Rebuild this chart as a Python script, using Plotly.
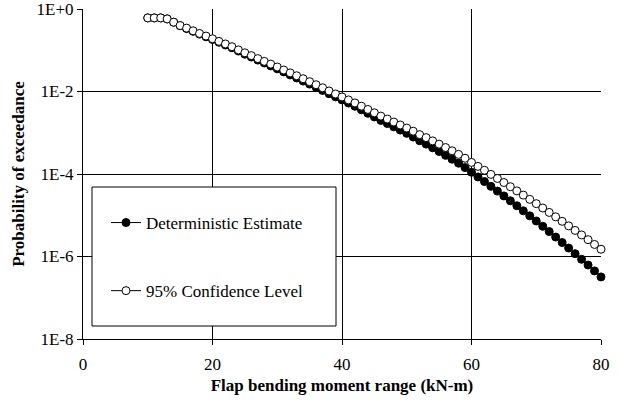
import plotly.graph_objects as go

moment = list(range(10, 81))

deterministic = [
    0.608, 0.608, 0.608, 0.575, 0.479, 0.393, 0.336, 0.288, 0.246, 0.212,
    0.182, 0.156, 0.134, 0.115, 0.0955, 0.0804, 0.0684, 0.0577, 0.0491, 0.0418,
    0.0354, 0.0299, 0.0252, 0.0213, 0.0179, 0.0151, 0.0126, 0.0106, 0.00883, 0.00741,
    0.00625, 0.00524, 0.00438, 0.00360, 0.00296, 0.00242, 0.00199, 0.00167, 0.00139, 0.00116,
    0.000966, 0.000789, 0.000640, 0.000530, 0.000432, 0.000351, 0.000283, 0.000229, 0.000183, 0.000143,
    0.000110, 8.49e-5, 6.56e-5, 5.02e-5, 3.85e-5, 2.94e-5, 2.24e-5, 1.70e-5, 1.28e-5, 9.66e-6,
    7.26e-6, 5.40e-6, 4.02e-6, 2.96e-6, 2.18e-6, 1.60e-6, 1.17e-6, 8.55e-7, 6.21e-7, 4.47e-7,
    3.20e-7,
]

confidence95 = [
    0.608, 0.608, 0.608, 0.575, 0.479, 0.397, 0.344, 0.296, 0.255, 0.221,
    0.190, 0.164, 0.142, 0.122, 0.102, 0.0866, 0.0741, 0.0628, 0.0538, 0.0461,
    0.0393, 0.0332, 0.0283, 0.0241, 0.0204, 0.0173, 0.0146, 0.0123, 0.0103, 0.00871,
    0.00738, 0.00625, 0.00529, 0.00441, 0.00367, 0.00304, 0.00253, 0.00215, 0.00182, 0.00154,
    0.00130, 0.00109, 0.000900, 0.000762, 0.000635, 0.000529, 0.000438, 0.000365, 0.000299, 0.000241,
    0.000191, 0.000153, 0.000123, 9.78e-5, 7.80e-5, 6.21e-5, 4.92e-5, 3.90e-5, 3.08e-5, 2.43e-5,
    1.91e-5, 1.50e-5, 1.17e-5, 9.16e-6, 7.13e-6, 5.53e-6, 4.29e-6, 3.33e-6, 2.56e-6, 1.96e-6,
    1.50e-6,
]

series_names = ["Deterministic Estimate", "95% Confidence Level"]
x_ticks = [0, 20, 40, 60, 80]
y_tick_vals = [1e0, 1e-2, 1e-4, 1e-6, 1e-8]
y_tick_text = ["1E+0", "1E-2", "1E-4", "1E-6", "1E-8"]

FONT = "Liberation Serif"
L, R, T, B = 83, 21, 9, 68
PW, PH = 622 - L - R, 407 - T - B

fig = go.Figure()

fig.add_trace(go.Scatter(
    x=moment, y=deterministic, mode="markers", showlegend=False, cliponaxis=False,
    marker=dict(symbol="circle", size=8, color="black", line=dict(color="black", width=1)),
))
fig.add_trace(go.Scatter(
    x=moment, y=confidence95, mode="markers", showlegend=False, cliponaxis=False,
    marker=dict(symbol="circle", size=8, color="white", line=dict(color="black", width=1)),
))

# legend entries
fig.add_trace(go.Scatter(
    x=[None], y=[None], mode="lines+markers", name=series_names[0], legendgroup="a",
    line=dict(color="black", width=1),
    marker=dict(symbol="circle", size=8, color="black", line=dict(color="black", width=1)),
))
fig.add_trace(go.Scatter(
    x=[None], y=[None], mode="lines+markers", name=series_names[1], legendgroup="b",
    line=dict(color="black", width=1),
    marker=dict(symbol="circle", size=8, color="white", line=dict(color="black", width=1)),
))

fig.update_layout(
    width=622, height=407,
    margin=dict(l=L, r=R, t=T, b=B, autoexpand=False),
    paper_bgcolor="white", plot_bgcolor="white",
    font=dict(family=FONT, size=17, color="black"),
    showlegend=True,
    legend=dict(
        x=(106 - L) / PW, y=(339 - 205) / PH, xanchor="left", yanchor="top",
        bgcolor="rgba(0,0,0,0)", borderwidth=0,
        tracegroupgap=43, font=dict(family=FONT, size=17, color="black"),
        itemwidth=30,
    ),
    shapes=[dict(
        type="rect", xref="paper", yref="paper",
        x0=(92 - L) / PW, x1=(336 - L) / PW, y0=(339 - 326) / PH, y1=(339 - 187) / PH,
        line=dict(color="black", width=1), fillcolor="white", layer="above",
    )],
)

fig.update_xaxes(
    range=[0, 80], tickvals=x_ticks, ticks="outside", ticklen=5, tickcolor="black",
    showline=True, linecolor="black", linewidth=1, automargin=False,
    showgrid=True, gridcolor="black", gridwidth=1, zeroline=False,
    tickfont=dict(family=FONT, size=17), ticklabelstandoff=5, ticklabeloverflow="allow",
    title=dict(text="<b>Flap bending moment range (kN-m)</b>", font=dict(family=FONT, size=17), standoff=5),
)
fig.update_yaxes(
    type="log", range=[-8, 0], tickvals=y_tick_vals, ticktext=y_tick_text,
    ticks="outside", ticklen=5, tickcolor="black",
    showline=True, linecolor="black", linewidth=1, automargin=False,
    showgrid=True, gridcolor="black", gridwidth=1, zeroline=False,
    tickfont=dict(family=FONT, size=17), ticklabeloverflow="allow",
    title=dict(text="<b>Probability of exceedance</b>", font=dict(family=FONT, size=17), standoff=7),
)

fig.write_html("out.html", config={"displayModeBar": False},
               post_script="document.body.style.margin='0';")
